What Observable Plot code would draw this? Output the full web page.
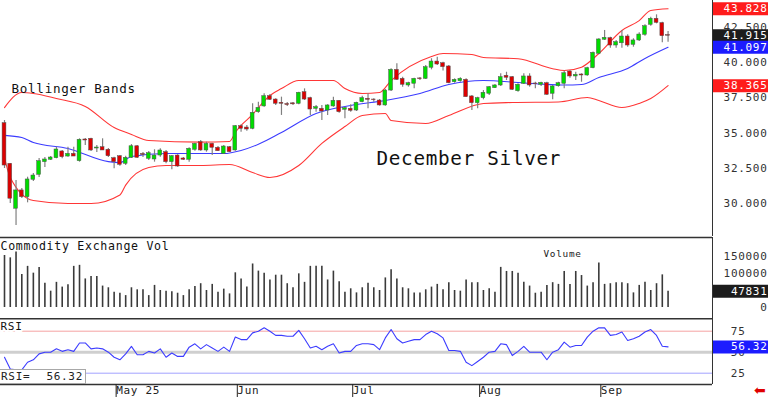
<!DOCTYPE html>
<html><head><meta charset="utf-8">
<script src="https://cdn.jsdelivr.net/npm/d3@7"></script>
<script src="https://cdn.jsdelivr.net/npm/@observablehq/plot@0.6"></script>
<style>
html,body{margin:0;padding:0;background:#fff;}
#wrap{position:relative;width:768px;height:397px;overflow:hidden;background:#fff;}
.panel{position:absolute;left:0;}
#rsibox{position:absolute;left:-1px;top:369px;width:85px;height:13px;border:1px solid #a8a8a8;background:#fff;
  font:11px "DejaVu Sans Mono",monospace;letter-spacing:0.7px;color:#222;line-height:13px;}
#rsibox span{position:absolute;top:0;}
#arrow{position:absolute;left:754px;top:382px;color:#e00000;font:14px "DejaVu Sans",sans-serif;}
</style></head>
<body><div id="wrap"></div>
<script>
// ---------- data ----------
const open = [35.70,32.81,29.62,30.92,30.44,31.68,32.03,32.93,33.10,33.21,
33.69,33.33,33.52,33.00,34.54,34.59,33.90,33.99,33.81,33.21,
33.35,32.81,33.24,34.06,33.51,33.17,33.12,33.40,33.64,32.93,
33.40,33.19,33.10,33.81,34.35,33.76,34.23,33.95,33.52,33.99,
33.76,35.49,35.39,35.30,36.48,36.89,37.62,37.38,37.15,37.06,
37.11,37.08,37.90,37.48,36.72,36.72,36.60,36.89,37.29,36.65,
36.72,36.60,37.19,37.43,37.38,37.31,36.96,38.02,39.49,38.85,
38.38,38.50,38.88,38.85,39.64,40.08,39.96,39.73,38.61,38.68,
38.78,37.60,37.12,37.48,37.79,38.19,38.38,39.07,38.97,37.97,
38.50,39.02,38.52,38.43,38.54,37.79,38.33,38.50,39.37,39.02,
39.16,39.09,39.61,40.63,41.63,41.74,41.22,41.38,41.86,41.27,
41.58,41.98,42.69,43.12,42.81,41.96];
const high = [35.89,32.84,31.63,31.06,31.86,32.12,33.19,33.26,33.33,33.99,
33.76,33.99,33.99,34.59,34.61,34.63,34.11,34.59,33.90,33.28,
33.40,33.35,34.18,34.11,33.62,33.69,33.81,33.88,33.76,33.40,
33.45,33.26,33.95,34.28,34.47,34.35,34.28,34.04,34.11,34.04,
35.54,35.58,35.54,37.08,37.19,37.79,37.74,37.43,37.55,37.17,
37.17,37.90,38.14,37.55,36.96,36.96,37.01,37.55,37.31,36.84,
37.01,37.19,37.62,37.79,37.43,37.38,38.09,39.57,39.92,38.97,
38.61,38.90,38.95,39.80,40.28,40.39,40.03,39.80,38.85,38.93,
38.85,37.67,37.55,38.02,38.31,38.45,39.21,39.32,39.02,38.50,
39.21,39.21,38.61,38.61,38.61,38.38,38.61,39.39,39.44,39.32,
39.21,39.68,40.75,41.70,42.29,41.81,41.58,42.29,41.98,41.70,
42.12,42.69,43.23,43.40,42.88,42.22];
const low = [32.48,29.99,28.43,30.35,30.04,31.56,31.84,32.55,33.05,33.17,
33.17,33.28,33.33,32.93,34.11,33.69,33.62,33.76,33.26,32.46,
32.64,32.69,33.19,33.19,33.26,33.05,32.93,33.28,32.81,32.39,
32.57,33.05,32.93,33.71,33.71,33.64,33.40,33.69,33.47,33.62,
33.71,35.06,35.13,35.23,36.41,36.84,37.31,36.96,36.25,36.89,
36.96,37.01,37.31,36.25,36.48,35.89,36.25,36.84,36.41,36.01,
36.48,36.53,37.15,36.72,37.19,36.91,36.91,37.95,38.73,38.26,
38.26,38.14,38.73,38.81,39.49,39.80,39.40,38.50,38.54,38.61,
37.55,36.60,36.72,37.36,37.67,38.16,38.31,38.73,38.02,37.90,
38.45,38.26,38.14,38.31,37.67,37.36,38.26,38.14,38.90,38.73,
38.61,39.04,39.57,40.56,41.58,41.03,41.03,41.03,41.10,41.10,
41.51,41.88,42.59,42.76,41.41,41.46];
const close = [32.69,30.33,30.92,30.44,31.70,31.98,33.00,33.12,33.26,33.83,
33.28,33.52,33.33,34.52,34.47,33.76,33.97,33.76,33.35,32.93,
32.74,33.24,34.06,33.24,33.44,33.57,33.40,33.76,32.93,33.35,
32.62,33.10,33.88,34.23,33.76,34.23,33.95,33.71,34.04,33.64,
35.49,35.30,35.25,36.44,36.79,37.62,37.36,37.08,37.08,36.99,
37.04,37.86,37.38,36.67,36.84,36.53,36.96,37.29,36.48,36.77,
36.58,37.15,37.48,37.36,37.34,36.96,38.02,39.49,38.78,38.43,
38.54,38.85,38.83,39.68,40.08,39.87,39.68,38.54,38.78,38.85,
37.55,37.12,37.48,37.86,38.26,38.38,38.97,38.93,38.07,38.43,
39.02,38.38,38.48,38.57,37.72,38.31,38.54,39.25,39.02,39.14,
39.09,39.61,40.70,41.65,41.77,41.22,41.46,41.86,41.22,41.58,
42.00,42.59,43.12,42.83,41.88,41.915];
const volume = [153000,146000,163000,97000,121000,101000,118000,71000,48000,74000,
60000,67000,121000,124000,84000,91000,91000,63000,58000,45000,
42000,35000,58000,52000,52000,35000,65000,50000,48000,46000,
42000,35000,52000,62000,70000,50000,68000,45000,54000,40000,
102000,84000,60000,128000,107000,101000,81000,95000,95000,70000,
58000,99000,74000,121000,121000,121000,81000,107000,76000,45000,
55000,43000,58000,71000,58000,50000,87000,111000,84000,58000,
55000,43000,43000,52000,60000,68000,52000,73000,50000,48000,
81000,73000,73000,50000,55000,45000,118000,106000,106000,101000,
74000,63000,42000,45000,65000,73000,68000,106000,68000,106000,
94000,63000,73000,131000,68000,70000,73000,73000,70000,43000,
65000,74000,50000,70000,96000,47831];
const rsi = [44,30,29,29,38,41,48,50,50,54,
51,53,51,61,61,54,55,54,50,44,
41,48,57,47,47,51,49,54,44,49,
45,45,56,60,54,59,55,51,56,51,
68,65,65,73,75,79,75,70,70,69,
69,76,66,55,57,53,57,60,49,51,
51,58,60,60,59,53,67,77,66,61,
63,65,65,71,75,72,67,52,52,51,
38,34,39,44,50,51,60,59,46,51,
57,50,50,50,41,50,53,62,56,58,
58,68,75,79,79,70,71,74,64,66,
69,74,77,70,57,56.32];
// Bollinger band points (bar index, value)
const upperIdx = [0,3,5,9,14,19,22,25,34,39,40,41,43,44,46,48,51,57,59,62,65,67,74,76,81,83,89,95,97,100,103,107,110,112,115];
const upperVal = [36.81,37.88,37.81,37.45,36.89,35.39,34.90,34.47,34.35,34.40,35.04,35.54,36.32,36.81,37.67,38.16,38.73,38.73,38.16,37.81,37.88,38.73,40.44,40.65,40.58,40.37,40.28,39.57,39.44,39.68,40.65,42.29,42.99,43.71,43.828];
const midIdx = [0,3,5,11,18,20,22,28,38,41,44,48,54,60,66,72,77,83,89,93,97,100,103,108,111,115];
const midVal = [34.83,34.68,34.33,33.90,32.97,32.90,33.33,33.54,33.54,33.76,34.20,35.04,36.39,36.96,37.31,37.81,38.45,38.73,38.59,38.48,38.41,38.45,38.95,39.59,40.30,41.097];
const lowerIdx = [0,1,5,11,15,20,21,25,28,34,39,43,46,51,55,59,62,66,67,73,77,83,88,96,101,103,107,110,112,115];
const lowerVal = [33.26,31.84,30.20,29.99,29.99,30.60,31.30,32.55,32.69,32.69,32.76,32.19,31.84,32.69,34.26,35.46,36.25,36.39,35.89,35.68,36.25,37.10,37.17,37.21,37.53,37.31,36.81,37.10,37.45,38.365];
// axis ticks and labels
const priceTicks = [30, 32.5, 35, 37.5, 40, 42.5];
const volTicks = [0, 100000, 150000];
const rsiTicks = [25, 50, 75];
const monthIdx = [19, 40, 60, 82, 103];
const monthLabels = ["May 25", "Jun", "Jul", "Aug", "Sep"];
const priceBoxes = [{v:43.828,bg:"#ff1c1c"},{v:41.915,bg:"#1c1c1c"},{v:41.097,bg:"#1c1cff"},{v:38.365,bg:"#ff1c1c"}];
const volBoxes = [{v:47831,bg:"#1c1c1c"}];
const rsiBoxes = [{v:56.32,bg:"#1c1cff"}];

// ---------- tables ----------
const candles = close.map((c,i)=>({i,o:open[i],h:high[i],l:low[i],c}));
const vols = volume.map((v,i)=>({i,v}));
const rsiPts = rsi.map((v,i)=>({i,v}));
const upper = upperIdx.map((i,k)=>({i,v:upperVal[k]}));
const mid = midIdx.map((i,k)=>({i,v:midVal[k]}));
const lower = lowerIdx.map((i,k)=>({i,v:lowerVal[k]}));

const FONT = "DejaVu Sans Mono";
const xDomain = [-0.693, 122.7];
const style = {fontFamily: FONT, letterSpacing: "0.7px", background: "transparent", overflow: "hidden"};
const priceDomain = [27.646, 44.419];
const volDomain = [-32353, 205882];
const rsiDomain = [11.55, 90.12];
const fmtVol = d => String(d);

function boxes(data, fmt, w) {
  return [
    Plot.ruleY(data, {y: "v", stroke: "bg", strokeWidth: 13, dx: 713}),
    Plot.text(data, {y: "v", text: d => fmt(d.v), frameAnchor: "right", textAnchor: "end", dx: w, fill: "white", fontSize: 11})
  ];
}

const pricePlot = Plot.plot({
  width: 768, height: 236, marginLeft: 0, marginRight: 56, marginTop: 0, marginBottom: 0,
  x: {domain: xDomain, axis: null},
  y: {domain: priceDomain, axis: null},
  style,
  marks: [
    Plot.line(upper, {x: "i", y: "v", stroke: "#ff3636", strokeWidth: 1.1, curve: "monotone-x"}),
    Plot.line(lower, {x: "i", y: "v", stroke: "#ff3636", strokeWidth: 1.1, curve: "monotone-x"}),
    Plot.line(mid, {x: "i", y: "v", stroke: "#3c3cff", strokeWidth: 1.1, curve: "monotone-x"}),
    Plot.ruleX(candles, {x: "i", y1: "l", y2: "h", stroke: "#808080", strokeWidth: 1.2}),
    Plot.rect(candles, {x1: d => d.i - 0.33, x2: d => d.i + 0.33, y1: "o", y2: "c",
      fill: d => d.c >= d.o ? "#00dc00" : "#dc0000", stroke: "#505050", strokeWidth: 0.5}),
    Plot.ruleX([xDomain[1]], {stroke: "#333", strokeWidth: 1}),
    Plot.text(priceTicks, {y: d => d, text: d => d.toFixed(3), frameAnchor: "right", textAnchor: "end", dx: 55, fill: "#333", fontSize: 11}),
    ...boxes(priceBoxes, v => v.toFixed(3), 55),
    Plot.text(["Bollinger Bands"], {frameAnchor: "top-left", dx: 11, dy: 88, textAnchor: "start", lineAnchor: "middle", fontSize: 12.6, fill: "#111"}),
    Plot.text(["December Silver"], {frameAnchor: "top-left", dx: 376, dy: 158, textAnchor: "start", lineAnchor: "middle", fontSize: 19.3, fill: "#111"})
  ]
});

const volPlot = Plot.plot({
  width: 768, height: 82, marginLeft: 0, marginRight: 56, marginTop: 1, marginBottom: 0,
  x: {domain: xDomain, axis: null},
  y: {domain: volDomain, axis: null},
  style,
  marks: [
    Plot.ruleX(vols, {x: "i", y1: 0, y2: "v", stroke: "#3a3a3a", strokeWidth: 1.6}),
    Plot.ruleY([volDomain[1]], {stroke: "#333", strokeWidth: 1.5}),
    Plot.ruleX([xDomain[1]], {stroke: "#333", strokeWidth: 1}),
    Plot.text(volTicks, {y: d => d, text: fmtVol, frameAnchor: "right", textAnchor: "end", dx: 55, fill: "#333", fontSize: 11}),
    ...boxes(volBoxes, fmtVol, 55),
    Plot.text(["Commodity Exchange Vol"], {frameAnchor: "top-left", dx: 0, dy: 9, textAnchor: "start", lineAnchor: "middle", fontSize: 11.6, fill: "#111"}),
    Plot.text(["Volume"], {frameAnchor: "top-left", dx: 543, dy: 16, textAnchor: "start", lineAnchor: "middle", fontSize: 9.4, fill: "#222"})
  ]
});

const rsiPlot = Plot.plot({
  width: 768, height: 79, marginLeft: 0, marginRight: 56, marginTop: 0, marginBottom: 13,
  x: {domain: xDomain, axis: null},
  y: {domain: rsiDomain, axis: null},
  style,
  marks: [
    Plot.ruleY([75], {stroke: "#f5a3a3", strokeWidth: 1}),
    Plot.ruleY([50], {stroke: "#cfcfcf", strokeWidth: 3}),
    Plot.ruleY([25], {stroke: "#a3a3ff", strokeWidth: 1}),
    Plot.line(rsiPts, {x: "i", y: "v", stroke: "#3c3cff", strokeWidth: 1.1}),
    Plot.ruleY([rsiDomain[1]], {stroke: "#333", strokeWidth: 2}),
    Plot.ruleY([rsiDomain[0]], {stroke: "#333", strokeWidth: 1.5}),
    Plot.ruleX([xDomain[1]], {stroke: "#333", strokeWidth: 1}),
    Plot.text(rsiTicks, {y: d => d, text: d => String(d), frameAnchor: "right", textAnchor: "end", dx: 33, fill: "#333", fontSize: 11}),
    ...boxes(rsiBoxes, v => v.toFixed(2), 55),
    Plot.text(["RSI"], {frameAnchor: "top-left", dx: 0, dy: 7.5, textAnchor: "start", lineAnchor: "middle", fontSize: 11, fill: "#111", stroke: "white", strokeWidth: 4, paintOrder: "stroke"}),
    Plot.axisX({ticks: monthIdx, tickFormat: d => monthLabels[monthIdx.indexOf(d)], tickSize: 13, tickPadding: -11,
      textAnchor: "start", dx: 2, fontSize: 11, color: "#222", label: null})
  ]
});

const wrap = document.getElementById("wrap");
[[pricePlot, 0], [volPlot, 236], [rsiPlot, 318]].forEach(([p, top]) => {
  p.classList.add("panel");
  p.style.top = top + "px";
  wrap.appendChild(p);
});
const rb = document.createElement("div");
rb.id = "rsibox";
rb.innerHTML = '<span style="left:1px">RSI=</span><span style="right:2px">' + rsi[rsi.length - 1].toFixed(2) + '</span>';
wrap.appendChild(rb);
const ar = document.createElement("div");
ar.id = "arrow";
ar.textContent = "\u2B05";
wrap.appendChild(ar);
</script>
</body></html>
